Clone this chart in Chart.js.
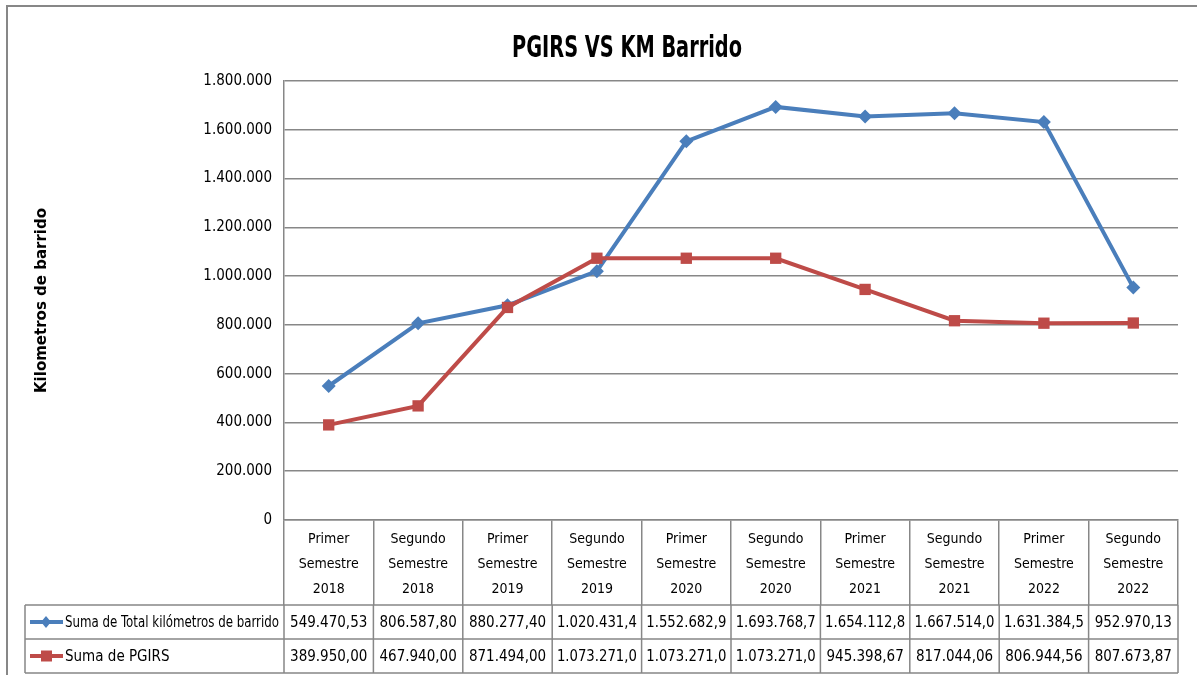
<!DOCTYPE html>
<html>
<head>
<meta charset="utf-8">
<script src="https://cdn.jsdelivr.net/npm/chart.js@4/dist/chart.umd.min.js"></script>
<style>
  html, body { margin: 0; padding: 0; background: #fff; }
  #contenedor { width: 1197px; height: 675px; position: relative; }
</style>
</head>
<body>
<div id="contenedor"><canvas id="grafico"></canvas></div>
<script>
const categorias = [
    ['Primer', 'Semestre', '2018'], ['Segundo', 'Semestre', '2018'],
    ['Primer', 'Semestre', '2019'], ['Segundo', 'Semestre', '2019'],
    ['Primer', 'Semestre', '2020'], ['Segundo', 'Semestre', '2020'],
    ['Primer', 'Semestre', '2021'], ['Segundo', 'Semestre', '2021'],
    ['Primer', 'Semestre', '2022'], ['Segundo', 'Semestre', '2022']
]
const totalKm = [549470.53, 806587.80, 880277.40, 1020431.4, 1552682.9, 1693768.7, 1654112.8, 1667514.0, 1631384.5, 952970.13]
const pgirs = [389950.00, 467940.00, 871494.00, 1073271.0, 1073271.0, 1073271.0, 945398.67, 817044.06, 806944.56, 807673.87]
const textoTotalKm = ['549.470,53', '806.587,80', '880.277,40', '1.020.431,4', '1.552.682,9', '1.693.768,7', '1.654.112,8', '1.667.514,0', '1.631.384,5', '952.970,13']
const textoPgirs = ['389.950,00', '467.940,00', '871.494,00', '1.073.271,0', '1.073.271,0', '1.073.271,0', '945.398,67', '817.044,06', '806.944,56', '807.673,87']
const nombresSeries = ['Suma de Total kilómetros de barrido', 'Suma de PGIRS']
const titulo = 'PGIRS VS KM Barrido'

const AZUL = '#4a7ebb'
const ROJO = '#be4b48'
const GRIS = '#878787'
const FUENTE = "'DejaVu Sans Condensed', 'Liberation Sans', sans-serif"

// marco de la hoja, titulo y tabla de datos bajo el eje x
const tablaDatos = {
    id: 'tablaDatos',
    beforeDraw(chart) {
        const ctx = chart.ctx
        ctx.save()
        ctx.fillStyle = '#fff'
        ctx.fillRect(0, 0, chart.width, chart.height)
        ctx.strokeStyle = GRIS
        ctx.lineWidth = 2
        ctx.beginPath()
        ctx.moveTo(7, chart.height)
        ctx.lineTo(7, 6)
        ctx.lineTo(chart.width, 6)
        ctx.stroke()
        // titulo comprimido (la fuente original es estrecha)
        ctx.fillStyle = '#000'
        ctx.font = 'bold 31px ' + FUENTE
        ctx.textAlign = 'center'
        ctx.textBaseline = 'alphabetic'
        ctx.fillText(titulo, 627, 57, 230)
        ctx.restore()
    },
    afterDraw(chart) {
        const ctx = chart.ctx
        const x = chart.scales.x
        const n = categorias.length
        const paso = x.width / n
        const arriba = x.bottom
        const alto = 34
        const izq = 25
        ctx.save()
        ctx.strokeStyle = GRIS
        ctx.lineWidth = 1.5
        ctx.beginPath()
        for (let r = 0; r <= 2; r++) {
            ctx.moveTo(izq, arriba + r * alto)
            ctx.lineTo(x.right, arriba + r * alto)
        }
        ctx.moveTo(izq, arriba)
        ctx.lineTo(izq, arriba + 2 * alto)
        for (let i = 0; i <= n; i++) {
            ctx.moveTo(x.left + i * paso, arriba)
            ctx.lineTo(x.left + i * paso, arriba + 2 * alto)
        }
        ctx.stroke()

        const filas = [textoTotalKm, textoPgirs]
        const colores = [AZUL, ROJO]
        ctx.font = '15px ' + FUENTE
        ctx.textBaseline = 'middle'
        for (let r = 0; r < 2; r++) {
            const yc = arriba + r * alto + alto / 2
            // marcador de leyenda
            ctx.strokeStyle = colores[r]
            ctx.fillStyle = colores[r]
            ctx.lineWidth = 4
            ctx.beginPath()
            ctx.moveTo(30, yc)
            ctx.lineTo(63, yc)
            ctx.stroke()
            ctx.beginPath()
            if (r === 0) {
                ctx.moveTo(46, yc - 6); ctx.lineTo(51, yc); ctx.lineTo(46, yc + 6); ctx.lineTo(41, yc)
                ctx.closePath()
            } else {
                ctx.rect(41, yc - 5.5, 11, 11)
            }
            ctx.fill()

            ctx.fillStyle = '#000'
            ctx.textAlign = 'left'
            ctx.fillText(nombresSeries[r], 65, yc + 1, 214)
            ctx.textAlign = 'center'
            for (let i = 0; i < n; i++) {
                ctx.fillText(filas[r][i], x.getPixelForValue(i), yc + 1, 80)
            }
        }
        ctx.restore()
    }
}

const ctx = document.getElementById('grafico').getContext('2d')
new Chart(ctx, {
    type: 'line',
    data: {
        labels: categorias,
        datasets: [{
            label: nombresSeries[0],
            data: totalKm,
            borderColor: AZUL,
            backgroundColor: AZUL,
            borderWidth: 4,
            pointStyle: 'rectRot',
            pointRadius: 7,
            pointBorderWidth: 0,
            tension: 0,
            order: 1
        }, {
            label: nombresSeries[1],
            data: pgirs,
            borderColor: ROJO,
            backgroundColor: ROJO,
            borderWidth: 4,
            pointStyle: 'rect',
            pointRadius: 8,
            pointBorderWidth: 0,
            tension: 0,
            order: 0
        }]
    },
    options: {
        responsive: true,
        maintainAspectRatio: false,
        animation: false,
        layout: { padding: { left: 0, right: 19, top: 81, bottom: 70 } },
        plugins: {
            legend: { display: false },
            tooltip: { enabled: false },
            title: { display: false }
        },
        scales: {
            x: {
                offset: true,
                afterFit: (escala) => { escala.height = 85 },
                grid: {
                    offset: true,
                    drawOnChartArea: false,
                    drawTicks: true,
                    tickLength: 85,
                    color: GRIS,
                    lineWidth: 1.5
                },
                border: { color: GRIS, width: 1.5 },
                ticks: {
                    color: '#000',
                    padding: -78,
                    maxRotation: 0,
                    autoSkip: false,
                    font: { family: FUENTE, size: 14, lineHeight: '25px' }
                }
            },
            y: {
                min: 0,
                max: 1800000,
                afterFit: (escala) => { escala.width = 284 },
                grid: { color: GRIS, lineWidth: 1.5, drawTicks: false },
                border: { color: GRIS, width: 1.5 },
                ticks: {
                    stepSize: 200000,
                    color: '#000',
                    padding: 12,
                    font: { family: FUENTE, size: 15 },
                    callback: (valor) => valor.toLocaleString('de-DE')
                },
                title: {
                    display: true,
                    text: 'Kilometros de barrido',
                    color: '#000',
                    font: { family: "'DejaVu Sans', sans-serif", size: 15, weight: 'bold' },
                    padding: { top: 33 }
                }
            }
        }
    },
    plugins: [tablaDatos]
})
</script>
</body>
</html>
